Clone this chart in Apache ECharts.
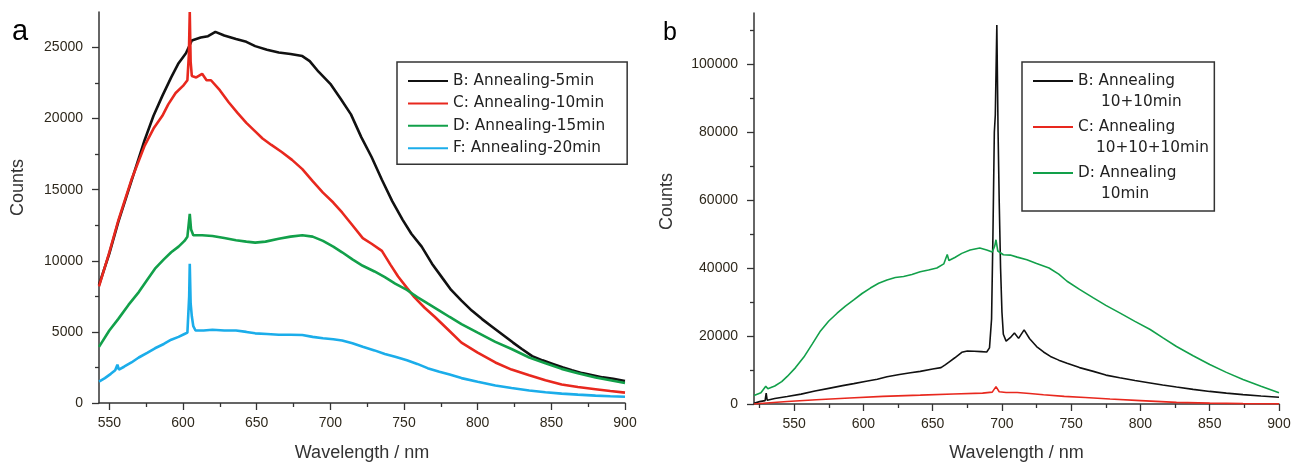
<!DOCTYPE html>
<html>
<head>
<meta charset="utf-8">
<script src="https://cdn.jsdelivr.net/npm/echarts@6/dist/echarts.min.js"></script>
<style>
html,body{margin:0;padding:0;background:#fff;}
#chart{width:1298px;height:463px;}
</style>
</head>
<body>
<div id="chart"></div>
<script>
// ---------- Panel a ----------
const aNames = ['B: Annealing-5min', 'C: Annealing-10min', 'D: Annealing-15min', 'F: Annealing-20min'];
const aXTicks = [550, 600, 650, 700, 750, 800, 850, 900];
const aXMinor = [575, 625, 675, 725, 775, 825, 875];
const aYTicks = [0, 5000, 10000, 15000, 20000, 25000];
const aYMinor = [2500, 7500, 12500, 17500, 22500];

const aB_x = [543,550,556,565,574,580,586,592,597,602,606,612,617,622,628,636,643,649,657,665,673,681,686,692,700,707,714,721,728,735,742,749,755,762,769,776,782,789,796,803,810,817,824,830,837,844,851,858,864,871,878,885,892,900];
const aB_y = [8300,10500,12700,15600,18500,20200,21600,22900,23900,24600,25500,25700,25800,26100,25850,25600,25400,25100,24850,24650,24550,24400,24050,23300,22450,21400,20300,18700,17300,15700,14200,12900,11900,11000,9800,8800,7950,7200,6500,5900,5350,4800,4250,3800,3300,3000,2750,2500,2300,2100,1950,1800,1700,1550];

const aC_x = [543,550,556,565,574,580,586,590,595,600,603,604,604.6,605.2,606,609,613,616,619,625,631,637,643,649,654,660,667,674,681,688,695,702,708,715,722,728,735,741,746,752,757,764,771,780,789,800,812,823,835,846,857,868,880,890,900];
const aC_y = [8200,10600,12800,15700,18100,19300,20200,21000,21800,22300,22700,24500,27500,24000,23000,22900,23150,22700,22700,22000,21150,20400,19700,19100,18600,18150,17650,17100,16450,15600,14800,14100,13400,12500,11600,11200,10700,9700,8900,8100,7450,6700,6050,5150,4250,3550,2850,2350,1950,1600,1300,1120,970,840,730];

const aD_x = [543,550,556,563,570,576,581,587,592,597,601,603,604.6,605.5,607,613,620,628,636,643,649,656,665,673,681,688,695,702,708,715,722,730,737,744,752,759,766,774,781,789,800,812,823,835,846,857,868,880,890,900];
const aD_y = [3950,5100,5900,6900,7800,8700,9450,10100,10600,11000,11400,11700,13300,12200,11800,11800,11750,11600,11450,11350,11280,11350,11550,11700,11800,11700,11400,11000,10600,10100,9650,9250,8850,8400,7950,7450,7000,6500,6050,5550,4950,4300,3800,3200,2800,2400,2100,1800,1600,1400];

const aF_x = [543,547,551,554,555.5,556.5,560,565,570,576,581,587,592,597,601,603,604.2,604.6,605.2,606,607,608.5,614,620,628,636,643,649,657,665,673,681,688,695,702,708,715,722,730,737,744,752,759,766,774,781,789,800,812,823,835,846,857,868,880,890,900];
const aF_y = [1500,1750,2050,2300,2700,2350,2550,2850,3200,3550,3850,4150,4450,4650,4850,4950,7500,9800,7000,6100,5400,5100,5100,5150,5100,5100,5000,4900,4850,4800,4800,4780,4650,4550,4480,4400,4200,3950,3700,3450,3250,3000,2750,2450,2200,2000,1750,1500,1230,1050,880,760,660,590,520,470,440];

// ---------- Panel b ----------
const bNames = ['B: Annealing', 'C: Annealing', 'D: Annealing'];
const bSub = ['10+10min', '10+10+10min', '10min'];
const bXTicks = [550, 600, 650, 700, 750, 800, 850, 900];
const bXMinor = [525, 575, 625, 675, 725, 775, 825, 875];
const bYTicks = [0, 20000, 40000, 60000, 80000, 100000];
const bYMinor = [10000, 30000, 50000, 70000, 90000, 110000];

const bB_x = [521,525,529,529.8,530.5,536,545,555,565,575,585,593,602,610,617,626,634,641,650,656,659,662,666,671,675,680,685,689,691,692.5,693.5,694.5,695.2,696.3,697.2,698,699,700,701,703,706,709,712,716,720,725,730,735,741,747,756,766,775,785,796,807,816,826,838,850,862,874,887,900];
const bB_y = [200,700,1000,3200,1100,1600,2200,2900,3800,4600,5400,6000,6700,7300,8000,8700,9200,9600,10300,10700,11500,12400,13600,15200,15600,15500,15400,15300,16500,25000,50000,80000,85000,111500,80000,60000,40000,27000,20500,18500,19500,20900,19300,21800,19200,16900,15300,14000,12900,12000,10700,9600,8500,7700,6900,6200,5600,5000,4300,3700,3200,2750,2350,2000];

const bC_x = [521,530,545,566,590,614,641,665,686,693,695.7,698,703,711,720,730,745,760,778,800,826,850,874,900];
const bC_y = [0,300,750,1250,1750,2250,2600,2950,3200,3500,5100,3600,3400,3400,3100,2700,2250,1900,1450,1000,480,250,100,50];

const bD_x = [521,526,529.5,531,536,541,545,551,557,563,569,575,581,587,593,599,605,611,617,623,629,635,641,647,653,658,660.5,661.7,666,671,677,684,689,693,694.8,695.7,697,701,706,711,718,725,734,741,747,756,766,775,785,796,807,816,826,838,850,862,874,887,900];
const bD_y = [2500,3300,5200,4500,5300,6600,8100,10700,13800,17600,21500,24400,26700,28800,30600,32500,34100,35500,36500,37200,37500,38100,38900,39400,40000,41200,44000,42200,43100,44300,45300,45900,45300,44700,46500,48300,45000,43900,43800,43200,42400,41300,40000,38200,36100,33700,31200,29000,26800,24300,21900,19500,16900,14200,11600,9300,7200,5200,3300];

const colors = {black: '#111111', red: '#e8281e', green: '#12a04a', blue: '#1badea'};
const zip = (xs, ys) => xs.map((x, i) => [x, ys[i]]);

const axisColor = '#333333';
const labelColor = '#2e281c';
const FONT = 'Liberation Sans, Arial, sans-serif';
const LEGEND_FONT = 'DejaVu Sans';

function mainX(gridIndex, min, max, ticks, nameGap) {
  return {
    type: 'value', gridIndex, min, max, position: 'bottom',
    name: 'Wavelength / nm', nameLocation: 'middle', nameGap,
    nameTextStyle: {fontSize: 18, color: '#333', fontFamily: FONT},
    axisLine: {onZero: false, lineStyle: {color: axisColor, width: 1.5}},
    axisTick: {show: true, length: 7, customValues: ticks, lineStyle: {color: axisColor, width: 1.3}},
    axisLabel: {customValues: ticks, margin: 13, fontSize: 14, color: labelColor, fontFamily: FONT,
      formatter: (v) => String(v)},
    splitLine: {show: false}
  };
}
function minorX(gridIndex, min, max, ticks) {
  return {
    type: 'value', gridIndex, min, max, position: 'bottom',
    axisLine: {show: false, onZero: false},
    axisTick: {show: true, length: 4, customValues: ticks, lineStyle: {color: axisColor, width: 1.3}},
    axisLabel: {show: false}, splitLine: {show: false}
  };
}
function mainY(gridIndex, min, max, ticks, nameGap, shift) {
  return {
    type: 'value', gridIndex, min, max, position: 'left',
    name: 'Counts', nameLocation: 'middle', nameGap,
    nameTextStyle: {fontSize: 18, color: '#333', fontFamily: FONT, padding: [0, 0, 0, shift]},
    axisLine: {show: true, onZero: false, lineStyle: {color: axisColor, width: 1.5}},
    axisTick: {show: true, length: 7, customValues: ticks, lineStyle: {color: axisColor, width: 1.3}},
    axisLabel: {customValues: ticks, margin: 16, fontSize: 14, color: labelColor, fontFamily: FONT,
      formatter: (v) => String(v)},
    splitLine: {show: false}
  };
}
function minorY(gridIndex, min, max, ticks) {
  return {
    type: 'value', gridIndex, min, max, position: 'left',
    axisLine: {show: false, onZero: false},
    axisTick: {show: true, length: 4, customValues: ticks, lineStyle: {color: axisColor, width: 1.3}},
    axisLabel: {show: false}, splitLine: {show: false}
  };
}
function lineSeries(name, xs, ys, color, xi, yi, width) {
  return {
    type: 'line', name, data: zip(xs, ys), xAxisIndex: xi, yAxisIndex: yi,
    symbol: 'none', showSymbol: false, smooth: false,
    lineStyle: {color, width}, itemStyle: {color}, z: 3
  };
}

const legendCommon = {
  orient: 'vertical', itemWidth: 40, itemHeight: 2, icon: 'rect',
  borderColor: '#333', borderWidth: 1.5, borderRadius: 0,
  backgroundColor: '#fff',
  textStyle: {fontSize: 15.3, color: '#222', fontFamily: LEGEND_FONT, lineHeight: 22},
  selectedMode: false
};

const bLabelMap = {};
bNames.forEach((n, i) => { bLabelMap[n + ' ' + bSub[i]] = n; });

const option = {
  animation: false,
  backgroundColor: '#ffffff',
  title: [
    {text: 'a', left: 7, top: 12, textStyle: {fontSize: 29, fontWeight: 'normal', color: '#000', fontFamily: FONT}},
    {text: 'b', left: 658, top: 16, textStyle: {fontSize: 25, fontWeight: 'normal', color: '#000', fontFamily: FONT}}
  ],
  grid: [
    {left: 99, top: 12, width: 526, height: 391, outerBoundsMode: 'none', containLabel: false},
    {left: 754, top: 13, width: 525, height: 391, outerBoundsMode: 'none', containLabel: false}
  ],
  xAxis: [
    mainX(0, 543, 900, aXTicks, 41),
    minorX(0, 543, 900, aXMinor),
    mainX(1, 521, 900, bXTicks, 40),
    minorX(1, 521, 900, bXMinor)
  ],
  yAxis: [
    mainY(0, 0, 27500, aYTicks, 72, 40),
    minorY(0, 0, 27500, aYMinor),
    mainY(1, 0, 115000, bYTicks, 78, 14),
    minorY(1, 0, 115000, bYMinor)
  ],
  legend: [
    Object.assign({}, legendCommon, {
      data: aNames, left: 397, top: 62, itemGap: 0.4, padding: [8, 22, 5, 11]
    }),
    Object.assign({}, legendCommon, {
      data: bNames.map((n, i) => n + ' ' + bSub[i]), left: 1022, top: 62, itemGap: 24,
      padding: [8, 38, 27, 11], formatter: (n) => bLabelMap[n]
    })
  ],
  graphic: bSub.map((s, i) => ({
    type: 'text', z: 100,
    x: [1101, 1096, 1101][i], y: 102 + i * 46,
    style: {text: s, fontSize: 15.3, fontFamily: LEGEND_FONT, fill: '#222', verticalAlign: 'middle', align: 'left'}
  })),
  series: [
    lineSeries(aNames[0], aB_x, aB_y, colors.black, 0, 0, 2.6),
    lineSeries(aNames[1], aC_x, aC_y, colors.red, 0, 0, 2.6),
    lineSeries(aNames[2], aD_x, aD_y, colors.green, 0, 0, 2.6),
    lineSeries(aNames[3], aF_x, aF_y, colors.blue, 0, 0, 2.6),
    lineSeries(bNames[0] + ' ' + bSub[0], bB_x, bB_y, colors.black, 2, 2, 1.6),
    lineSeries(bNames[1] + ' ' + bSub[1], bC_x, bC_y, colors.red, 2, 2, 1.6),
    lineSeries(bNames[2] + ' ' + bSub[2], bD_x, bD_y, colors.green, 2, 2, 1.6)
  ]
};

const chart = echarts.init(document.getElementById('chart'), null, {renderer: 'canvas'});
chart.setOption(option);
</script>
</body>
</html>
